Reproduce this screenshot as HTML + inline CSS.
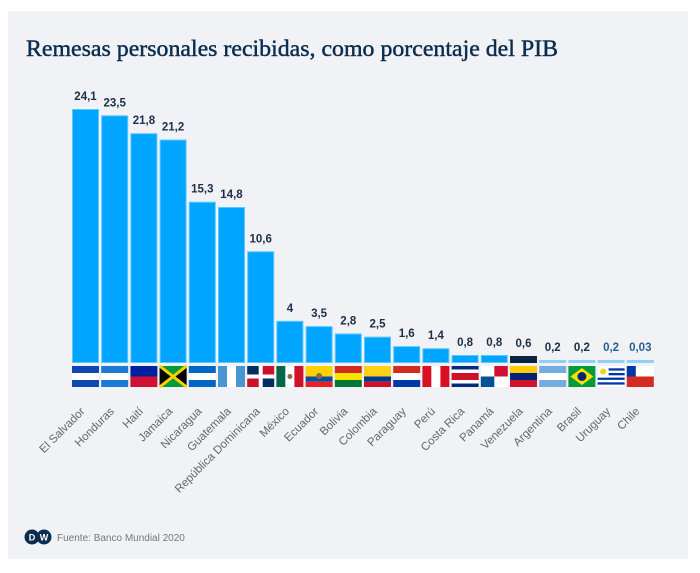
<!DOCTYPE html>
<html><head><meta charset="utf-8"><style>
body{margin:0;background:#fff;}
svg{display:block;}
</style></head><body>
<svg width="700" height="573" viewBox="0 0 700 573" xmlns="http://www.w3.org/2000/svg">
<rect x="8" y="11" width="680" height="548" fill="#f0f2f5"/>
<text x="26" y="56" font-family="Liberation Serif, serif" font-size="23" fill="#0b2d50" stroke="#0b2d50" stroke-width="0.45" textLength="532" lengthAdjust="spacingAndGlyphs">Remesas personales recibidas, como porcentaje del PIB</text>
<g id="bars" font-family="Liberation Sans, sans-serif" font-size="11.5" font-weight="bold" text-anchor="middle"></g>
<g id="flags"></g>
<g id="labels" font-family="Liberation Sans, sans-serif" font-size="11.5" fill="#666" text-anchor="end"></g>
<g>
<circle cx="32" cy="537" r="7.5" fill="#0b2d50"/>
<circle cx="44" cy="537" r="7.5" fill="#0b2d50"/>
<text x="32" y="540.5" font-family="Liberation Sans, sans-serif" font-size="9" font-weight="bold" fill="#fff" text-anchor="middle">D</text>
<text x="44" y="540.5" font-family="Liberation Sans, sans-serif" font-size="9" font-weight="bold" fill="#fff" text-anchor="middle">W</text>
<text x="57" y="541" font-family="Liberation Sans, sans-serif" font-size="10" fill="#777">Fuente: Banco Mundial 2020</text>
</g>
</svg>
<script>
const data=[["El Salvador",24.1,"24,1"],["Honduras",23.5,"23,5"],["Haití",21.8,"21,8"],["Jamaica",21.2,"21,2"],["Nicaragua",15.3,"15,3"],["Guatemala",14.8,"14,8"],["República Dominicana",10.6,"10,6"],["México",4,"4"],["Ecuador",3.5,"3,5"],["Bolivia",2.8,"2,8"],["Colombia",2.5,"2,5"],["Paraguay",1.6,"1,6"],["Perú",1.4,"1,4"],["Costa Rica",0.8,"0,8"],["Panamá",0.8,"0,8"],["Venezuela",0.6,"0,6"],["Argentina",0.2,"0,2"],["Brasil",0.2,"0,2"],["Uruguay",0.2,"0,2"],["Chile",0.03,"0,03"]];
const base=363,k=10.54,W=27;
let bh='',fh='',lh='';
function r(x,y,w,h,c){return `<rect x="${x}" y="${y}" width="${w}" height="${h}" fill="${c}"/>`;}
const flags=[
(x,y)=>r(x,y,W,7,"#0f47af")+r(x,y+7,W,7,"#fff")+r(x,y+14,W,7,"#0f47af"),
(x,y)=>r(x,y,W,7,"#1a7ad4")+r(x,y+7,W,7,"#fff")+r(x,y+14,W,7,"#1a7ad4"),
(x,y)=>r(x,y,W,10.5,"#00209f")+r(x,y+10.5,W,10.5,"#d21034"),
(x,y)=>r(x,y,W,21,"#009b3a")+`<polygon points="${x},${y} ${x+13.5},${y+10.5} ${x},${y+21}" fill="#000"/><polygon points="${x+W},${y} ${x+13.5},${y+10.5} ${x+W},${y+21}" fill="#000"/><line x1="${x}" y1="${y}" x2="${x+W}" y2="${y+21}" stroke="#fed100" stroke-width="3"/><line x1="${x+W}" y1="${y}" x2="${x}" y2="${y+21}" stroke="#fed100" stroke-width="3"/>`,
(x,y)=>r(x,y,W,7,"#0067c6")+r(x,y+7,W,7,"#fff")+r(x,y+14,W,7,"#0067c6"),
(x,y)=>r(x,y,9,21,"#4997d0")+r(x+9,y,9,21,"#fff")+r(x+18,y,9,21,"#4997d0"),
(x,y)=>r(x,y,W,21,"#fff")+r(x,y,11.5,8.5,"#002d62")+r(x+15.5,y,11.5,8.5,"#ce1126")+r(x,y+12.5,11.5,8.5,"#ce1126")+r(x+15.5,y+12.5,11.5,8.5,"#002d62"),
(x,y)=>r(x,y,9,21,"#006847")+r(x+9,y,9,21,"#fff")+r(x+18,y,9,21,"#ce1126")+`<circle cx="${x+13.5}" cy="${y+10.5}" r="2.5" fill="#8a6d3b"/>`,
(x,y)=>r(x,y,W,10.5,"#ffd100")+r(x,y+10.5,W,5.25,"#034ea2")+r(x,y+15.75,W,5.25,"#ed1c24")+`<circle cx="${x+13.5}" cy="${y+10}" r="3" fill="#8a6d3b"/>`,
(x,y)=>r(x,y,W,7,"#d52b1e")+r(x,y+7,W,7,"#f9e300")+r(x,y+14,W,7,"#007934"),
(x,y)=>r(x,y,W,10.5,"#fcd116")+r(x,y+10.5,W,5.25,"#003893")+r(x,y+15.75,W,5.25,"#ce1126"),
(x,y)=>r(x,y,W,7,"#d52b1e")+r(x,y+7,W,7,"#fff")+r(x,y+14,W,7,"#0038a8"),
(x,y)=>r(x,y,9,21,"#d91023")+r(x+9,y,9,21,"#fff")+r(x+18,y,9,21,"#d91023"),
(x,y)=>r(x,y,W,21,"#002b7f")+r(x,y+3.5,W,14,"#fff")+r(x,y+7,W,7,"#ce1126"),
(x,y)=>r(x,y,W,21,"#fff")+r(x+13.5,y,13.5,10.5,"#d21034")+r(x,y+10.5,13.5,10.5,"#005293"),
(x,y)=>r(x,y,W,7,"#ffcc00")+r(x,y+7,W,7,"#00247d")+r(x,y+14,W,7,"#cf142b"),
(x,y)=>r(x,y,W,7,"#74acdf")+r(x,y+7,W,7,"#fff")+r(x,y+14,W,7,"#74acdf"),
(x,y)=>r(x,y,W,21,"#009c3b")+`<polygon points="${x+13.5},${y+2} ${x+25},${y+10.5} ${x+13.5},${y+19} ${x+2},${y+10.5}" fill="#ffdf00"/><circle cx="${x+13.5}" cy="${y+10.5}" r="4.5" fill="#002776"/>`,
(x,y)=>r(x,y,W,21,"#fff")+r(x,y+2.3,W,2.3,"#0038a8")+r(x,y+7,W,2.3,"#0038a8")+r(x,y+11.6,W,2.3,"#0038a8")+r(x,y+16.3,W,2.3,"#0038a8")+r(x,y,11,11.6,"#fff")+`<circle cx="${x+5.5}" cy="${y+5.5}" r="3" fill="#fcd116"/>`,
(x,y)=>r(x,y,W,10.5,"#fff")+r(x,y+10.5,W,10.5,"#d52b1e")+r(x,y,9,10.5,"#0039a6")
];
data.forEach((d,i)=>{
 const x=72+i*29.2;
 let h=Math.max(d[1]*k,3);
 let col="#00a5ff",st="#5cc6ff";
 if(i==15){col="#0c2340";st="#0c2340";h=7;}
 if(i>=16){col="#8fd0f8";st="#8fd0f8";}
 if(i==13||i==14){h=8;}
 const top=base-h;
 bh+=`<rect x="${x+0.5}" y="${top+0.5}" width="${W-1}" height="${h-1}" fill="${col}" stroke="${st}" stroke-width="1"/>`;
 const lc=(i>=18)?"#2a5d93":"#1c2e4a";
 bh+=`<text x="${x+W/2}" y="${top-9}" fill="${lc}">${d[2]}</text>`;
 fh+=flags[i](x,366);
 const cx=x+W/2, cy=412;
 lh+=`<text transform="translate(${cx},${cy}) rotate(-45)">${d[0]}</text>`;
});
document.getElementById('bars').innerHTML=bh;
document.getElementById('flags').innerHTML=fh;
document.getElementById('labels').innerHTML=lh;
</script>
</body></html>
